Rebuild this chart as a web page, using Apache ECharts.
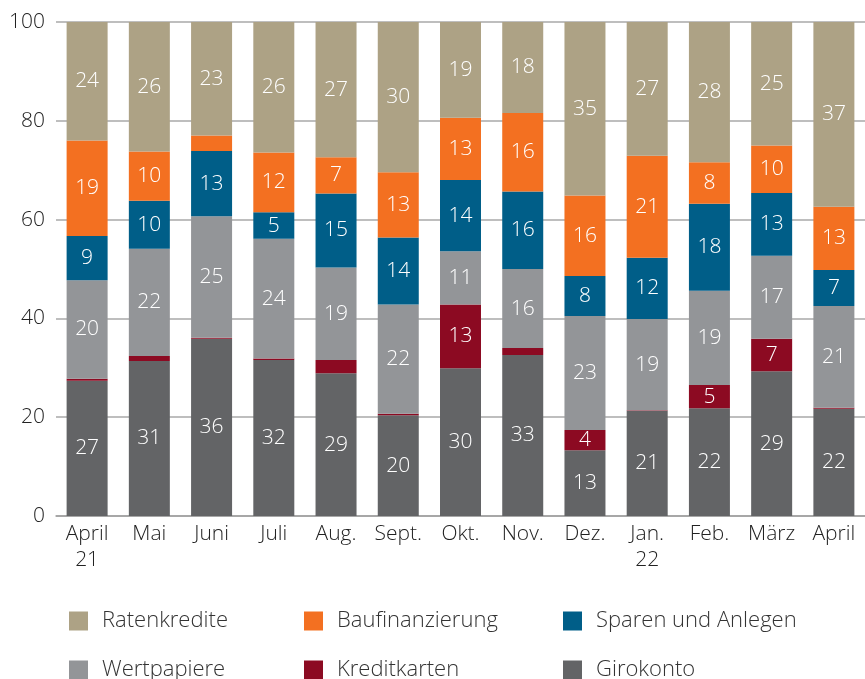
<!DOCTYPE html>
<html>
<head>
<meta charset="utf-8">
<script src="https://cdn.jsdelivr.net/npm/echarts@6/dist/echarts.min.js"></script>
<style>
html,body{margin:0;padding:0;background:#fff;}
#chart{width:865px;height:679px;}
</style>
</head>
<body>
<div id="chart"></div>
<script>
const categories = ['April\n21','Mai','Juni','Juli','Aug.','Sept.','Okt.','Nov.','Dez.','Jan.\n22','Feb.','März','April'];
const girokonto      = [27.4, 31.4, 35.9, 31.6, 28.9, 20.4, 29.9, 32.6, 13.3, 21.3, 21.8, 29.3, 21.7];
const kreditkarten   = [0.4, 1.0, 0.2, 0.3, 2.7, 0.3, 12.9, 1.4, 4.1, 0.1, 4.7, 6.6, 0.2];
const wertpapiere    = [19.9, 21.7, 24.6, 24.2, 18.7, 22.1, 10.8, 16.0, 23.1, 18.5, 19.1, 16.8, 20.6];
const sparenAnlegen  = [9.0, 9.7, 13.2, 5.4, 15.0, 13.6, 14.4, 15.7, 8.1, 12.4, 17.6, 12.7, 7.3];
const baufinanzierung= [19.3, 10.0, 3.1, 12.1, 7.3, 13.2, 12.6, 15.9, 16.3, 20.6, 8.4, 9.6, 12.8];
const ratenkredite   = [24.0, 26.2, 23.0, 26.4, 27.4, 30.4, 19.4, 18.4, 35.1, 27.1, 28.4, 25.0, 37.4];
const yTicks = [0, 20, 40, 60, 80, 100];

const FONT = '"Open Sans", "Noto Sans", sans-serif';
const WEIGHT = 300;
const seriesDefs = [
  {name:'Girokonto', data:girokonto, color:'#636466'},
  {name:'Kreditkarten', data:kreditkarten, color:'#8C0A22'},
  {name:'Wertpapiere', data:wertpapiere, color:'#939598'},
  {name:'Sparen und Anlegen', data:sparenAnlegen, color:'#005E88'},
  {name:'Baufinanzierung', data:baufinanzierung, color:'#F37021'},
  {name:'Ratenkredite', data:ratenkredite, color:'#ADA285'}
];

const legendPos = {
  'Ratenkredite': [64, 605],
  'Baufinanzierung': [299, 605],
  'Sparen und Anlegen': [558, 605],
  'Wertpapiere': [64, 654],
  'Kreditkarten': [299, 654],
  'Girokonto': [558, 654]
};

const legends = Object.keys(legendPos).map(n => ({
  data: [n],
  left: legendPos[n][0],
  top: legendPos[n][1],
  icon: 'rect',
  itemWidth: 19,
  itemHeight: 19,
  selectedMode: false,
  textStyle: {fontFamily: FONT, fontWeight: WEIGHT, fontSize: 22, lineHeight: 19, color: '#333', padding: [0,0,0,9]}
}));

const chart = echarts.init(document.getElementById('chart'), null, {renderer:'canvas'});
chart.setOption({
  animation: false,
  backgroundColor: '#fff',
  legend: legends,
  grid: {left: 56, top: 22, width: 812, height: 494, containLabel: false},
  xAxis: {
    type: 'category',
    data: categories,
    axisTick: {show: false},
    axisLine: {lineStyle: {color: '#a0a0a0', width: 1.5}},
    axisLabel: {fontFamily: FONT, fontWeight: WEIGHT, fontSize: 21, color: '#222', margin: 5, lineHeight: 26, interval: 0}
  },
  yAxis: {
    type: 'value',
    min: yTicks[0],
    max: yTicks[yTicks.length-1],
    interval: 20,
    axisLine: {show: false},
    axisTick: {show: false},
    splitLine: {lineStyle: {color: '#a8a8a8', width: 1.5}},
    axisLabel: {fontFamily: FONT, fontWeight: WEIGHT, fontSize: 21, color: '#222', margin: 11}
  },
  series: seriesDefs.map(s => ({
    name: s.name,
    type: 'bar',
    stack: 'total',
    barWidth: 41,
    data: s.data,
    itemStyle: {color: s.color},
    label: {
      show: true,
      position: 'inside',
      color: '#fff',
      fontFamily: FONT,
      fontWeight: WEIGHT,
      fontSize: 21,
      formatter: p => p.value >= 3.5 ? String(Math.round(p.value)) : ''
    }
  }))
});
</script>
</body>
</html>
